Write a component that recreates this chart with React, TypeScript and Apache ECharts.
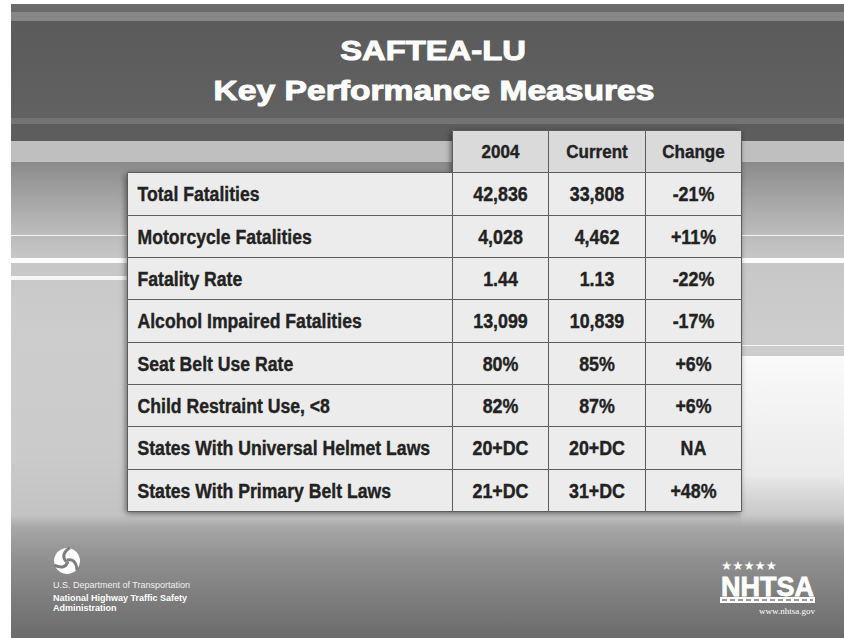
import React, { useEffect, useRef } from "react";
import * as echarts from "echarts";

const titleLines = ["SAFTEA-LU", "Key Performance Measures"];
const columnHeaders = ["2004", "Current", "Change"];
const metrics = [
  "Total Fatalities",
  "Motorcycle Fatalities",
  "Fatality Rate",
  "Alcohol Impaired Fatalities",
  "Seat Belt Use Rate",
  "Child Restraint Use, <8",
  "States With Universal Helmet Laws",
  "States With Primary Belt Laws",
];
const values2004 = ["42,836", "4,028", "1.44", "13,099", "80%", "82%", "20+DC", "21+DC"];
const valuesCurrent = ["33,808", "4,462", "1.13", "10,839", "85%", "87%", "20+DC", "31+DC"];
const changes = ["-21%", "+11%", "-22%", "-17%", "+6%", "+6%", "NA", "+48%"];

// layout: column edges along the table's x scale
const COL_EDGES = [0, 325, 421, 518, 614];
const FONT = '"Liberation Sans", Arial, Helvetica, sans-serif';

type Cell = { c: number; r: number; text: string };
const cells: Cell[] = [];
columnHeaders.forEach((t, i) => cells.push({ c: i + 1, r: 0, text: t }));
metrics.forEach((m, i) => {
  cells.push({ c: 0, r: i + 1, text: m });
  cells.push({ c: 1, r: i + 1, text: values2004[i] });
  cells.push({ c: 2, r: i + 1, text: valuesCurrent[i] });
  cells.push({ c: 3, r: i + 1, text: changes[i] });
});

function background(): any[] {
  const els: any[] = [];
  const band = (y: number, h: number, fill: any, x = 11, w = 833) =>
    els.push({ type: "rect", z: 0, silent: true, shape: { x, y, width: w, height: h }, style: { fill } });
  band(4, 8, "#6b6b6b");
  band(12, 9, "#878787");
  band(21, 97, new echarts.graphic.LinearGradient(0, 0, 0, 1, [
    { offset: 0, color: "#5b5b5b" },
    { offset: 1, color: "#616161" },
  ]));
  band(118, 6, "#747474");
  band(124, 17, "#5d5d5d");
  band(141, 21, "#bfbfbf");
  const y0 = 162, y1 = 638, L = y1 - y0;
  const st = (y: number, color: string) => ({ offset: (y - y0) / L, color });
  band(y0, L, new echarts.graphic.LinearGradient(0, 0, 0, 1, [
    st(162, "#8a8a8a"),
    st(200, "#a6a6a6"),
    st(234, "#bcbcbc"),
    st(258, "#c6c6c6"),
    st(330, "#cdcdcd"),
    st(450, "#cbcbcb"),
    st(515, "#c3c3c3"),
    st(528, "#a6a6a6"),
    st(560, "#8f8f8f"),
    st(638, "#6b6b6b"),
  ]));
  // right side light area
  els.push({
    type: "rect", z: 0, silent: true,
    shape: { x: 741, y: 356, width: 103, height: 170 },
    style: {
      fill: new echarts.graphic.LinearGradient(0, 0, 0, 1, [
        { offset: 0, color: "rgba(250,250,250,1)" },
        { offset: 0.7, color: "rgba(238,238,238,0.9)" },
        { offset: 1, color: "rgba(220,220,220,0)" },
      ]),
    },
  });
  band(235, 1, "rgba(255,255,255,0.85)");
  band(258, 5, "rgba(255,255,255,0.95)");
  band(276, 4, "rgba(255,255,255,0.85)", 11, 116);
  band(345, 1, "rgba(255,255,255,0.85)", 741, 103);
  return els;
}

function titles(): any[] {
  return [
    {
      type: "text", z: 1, x: 433, y: 50, scaleX: 1.17,
      style: {
        text: titleLines[0], x: 0, y: 0, align: "center", verticalAlign: "middle",
        fontFamily: FONT, fontWeight: "bold", fontSize: 28, fill: "#ffffff",
        stroke: "#ffffff", lineWidth: 1,
      },
    },
    {
      type: "text", z: 1, x: 434, y: 90, scaleX: 1.18,
      style: {
        text: titleLines[1], x: 0, y: 0, align: "center", verticalAlign: "middle",
        fontFamily: FONT, fontWeight: "bold", fontSize: 28.5, fill: "#ffffff",
        stroke: "#ffffff", lineWidth: 1,
      },
    },
  ];
}

function logos(): any[] {
  const gap = (rot: number) => ({
    type: "bezierCurve",
    rotation: rot,
    shape: { x1: 0, y1: -1, cpx1: 9, cpy1: -3, x2: 10, y2: 9 },
    style: { stroke: "#7d7d7d", lineWidth: 3, fill: null },
  });
  return [
    {
      type: "group", x: 67, y: 561, z: 1,
      children: [
        { type: "circle", shape: { cx: 0, cy: 0, r: 13 }, style: { fill: "#ffffff" } },
        gap(0), gap((2 * Math.PI) / 3), gap((4 * Math.PI) / 3),
      ],
    },
    {
      type: "text", z: 1, style: {
        text: "U.S. Department of Transportation", x: 53, y: 585, align: "left", verticalAlign: "middle",
        fontFamily: FONT, fontSize: 9, fill: "#f0f0f0",
      },
    },
    {
      type: "text", z: 1, style: {
        text: "National Highway Traffic Safety", x: 53, y: 598, align: "left", verticalAlign: "middle",
        fontFamily: FONT, fontWeight: "bold", fontSize: 9, fill: "#ffffff",
      },
    },
    {
      type: "text", z: 1, style: {
        text: "Administration", x: 53, y: 608, align: "left", verticalAlign: "middle",
        fontFamily: FONT, fontWeight: "bold", fontSize: 9, fill: "#ffffff",
      },
    },
    {
      type: "text", z: 1, style: {
        text: "★★★★★", x: 721, y: 565, align: "left", verticalAlign: "middle",
        fontFamily: '"DejaVu Sans", sans-serif', fontSize: 12.5, fill: "#ffffff",
      },
    },
    {
      type: "text", z: 1, style: {
        text: "NHTSA", x: 767.5, y: 587, align: "center", verticalAlign: "middle",
        fontFamily: FONT, fontWeight: "bold", fontSize: 27, fill: "#ffffff",
        stroke: "#ffffff", lineWidth: 0.8,
      },
    },
    { type: "rect", z: 1, shape: { x: 720, y: 597, width: 95, height: 6 }, style: { fill: "#ffffff" } },
    {
      type: "line", z: 2, shape: { x1: 722, y1: 600, x2: 813, y2: 600 },
      style: { stroke: "#7a7a7a", lineWidth: 1.5, lineDash: [5, 3] },
    },
    {
      type: "text", z: 1, style: {
        text: "www.nhtsa.gov", x: 815, y: 611, align: "right", verticalAlign: "middle",
        fontFamily: '"Liberation Serif", "Times New Roman", serif', fontSize: 9, fill: "#ffffff",
      },
    },
  ];
}

export default function App() {
  const ref = useRef<HTMLDivElement>(null);
  useEffect(() => {
    if (!ref.current) return;
    const chart = echarts.init(ref.current, undefined, { renderer: "svg" });
    const lastRow = metrics.length;
    chart.setOption({
      animation: false,
      backgroundColor: "#ffffff",
      grid: { left: 127, top: 130, width: 614, height: 381, containLabel: false, show: false },
      xAxis: { type: "value", min: COL_EDGES[0], max: COL_EDGES[COL_EDGES.length - 1], show: false },
      yAxis: { type: "category", data: ["header", ...metrics], inverse: true, show: false },
      graphic: { elements: [...background(), ...titles(), ...logos()] },
      series: [
        {
          type: "custom",
          z: 3,
          silent: true,
          clip: false,
          data: [[0, 0]],
          renderItem: (params: any, api: any) => {
            const h = api.size([0, 1])[1];
            const hl = api.coord([COL_EDGES[1], 0]);
            const hr = api.coord([COL_EDGES[4], 0]);
            const bl = api.coord([COL_EDGES[0], 1]);
            const br = api.coord([COL_EDGES[4], lastRow]);
            const shadow = {
              shadowBlur: 6, shadowColor: "rgba(0,0,0,0.55)", shadowOffsetX: -1, shadowOffsetY: 2,
            };
            return {
              type: "group",
              children: [
                {
                  type: "rect",
                  shape: { x: hl[0], y: hl[1] - h / 2, width: hr[0] - hl[0], height: h },
                  style: { fill: "#d8d8d8", ...shadow },
                },
                {
                  type: "rect",
                  shape: { x: bl[0], y: bl[1] - h / 2, width: br[0] - bl[0], height: br[1] - bl[1] + h },
                  style: { fill: "#ebebeb", ...shadow },
                },
              ],
            };
          },
        },
        {
          type: "custom",
          z: 4,
          silent: true,
          clip: false,
          data: cells.map((cell) => [cell.c, cell.r]),
          renderItem: (params: any, api: any) => {
            const cell = cells[params.dataIndex];
            const c = api.value(0);
            const r = api.value(1);
            const left = api.coord([COL_EDGES[c], r]);
            const right = api.coord([COL_EDGES[c + 1], r]);
            const h = api.size([0, 1])[1];
            const x0 = Math.round(left[0]) + 0.5;
            const x1 = Math.round(right[0]) + 0.5;
            const yTop = Math.round(left[1] - h / 2) + 0.5;
            const yBot = Math.round(left[1] + h / 2) + 0.5;
            const isHeader = r === 0;
            const sx = isHeader ? 0.92 : c === 0 ? 0.86 : 0.87;
            return {
              type: "group",
              children: [
                {
                  type: "rect",
                  shape: { x: x0, y: yTop, width: x1 - x0, height: yBot - yTop },
                  style: {
                    fill: isHeader ? "#dadada" : "#ececec",
                    stroke: "#5c5c5c",
                    lineWidth: 1,
                  },
                },
                {
                  type: "text",
                  x: c === 0 ? x0 + 10 : (x0 + x1) / 2,
                  y: left[1] + 1,
                  scaleX: sx,
                  style: {
                    text: cell.text,
                    x: 0,
                    y: 0,
                    align: c === 0 ? "left" : "center",
                    verticalAlign: "middle",
                    fontFamily: FONT,
                    fontWeight: "bold",
                    fontSize: isHeader ? 18.5 : 20.5,
                    fill: "#222222",
                    stroke: "#222222",
                    lineWidth: 0.4,
                  },
                },
              ],
            };
          },
        },
      ],
    });
    return () => chart.dispose();
  }, []);
  return <div ref={ref} style={{ width: 844, height: 638, position: "absolute", left: 0, top: 0 }} />;
}
